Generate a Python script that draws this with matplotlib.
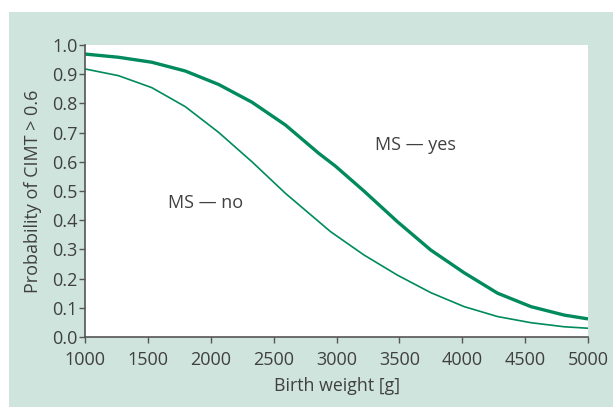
import matplotlib
matplotlib.use("Agg")
import matplotlib.pyplot as plt
from matplotlib.patches import Rectangle

weights_yes = [1000, 1266, 1531, 1797, 2062, 2328, 2594, 2859, 2992, 3218, 3484, 3749,
               4015, 4281, 4546, 4811, 5000]
ms_yes = [0.969, 0.958, 0.941, 0.911, 0.865, 0.804, 0.726, 0.629, 0.585, 0.500, 0.395,
          0.298, 0.220, 0.150, 0.104, 0.075, 0.062]
weights_no = [1000, 1266, 1531, 1797, 2062, 2328, 2594, 2952, 3218, 3484, 3749, 4015,
              4281, 4546, 4811, 5000]
ms_no = [0.918, 0.895, 0.854, 0.789, 0.701, 0.600, 0.492, 0.361, 0.281, 0.212, 0.152,
         0.104, 0.070, 0.049, 0.035, 0.030]
xticks = [1000, 1500, 2000, 2500, 3000, 3500, 4000, 4500, 5000]
yticks = [0.0, 0.1, 0.2, 0.3, 0.4, 0.5, 0.6, 0.7, 0.8, 0.9, 1.0]

plt.rcParams['font.family'] = ['Open Sans', 'DejaVu Sans']
W, H = 613, 407
fig = plt.figure(figsize=(W / 100, H / 100), dpi=100)
fig.patch.set_facecolor('white')
fig.patches.append(Rectangle((9 / W, 0), 1 - 9 / W, 1 - 12 / H, transform=fig.transFigure,
                             facecolor='#cfe4dc', edgecolor='none', zorder=-10))

ax = fig.add_axes([85 / W, 1 - 337 / H, (588 - 85) / W, (337 - 45) / H])
ax.set_facecolor('white')
green = '#008a5e'
ax.plot(weights_yes, ms_yes, color=green, lw=2.4, solid_capstyle='butt', solid_joinstyle='round')
ax.plot(weights_no, ms_no, color=green, lw=1.2, solid_capstyle='butt', solid_joinstyle='round')
ax.set_xlim(1000, 5000)
ax.set_ylim(0, 1.0)
ax.set_xticks(xticks)
ax.set_yticks(yticks)
ax.set_yticklabels([f"{v:.1f}" for v in yticks])
for s in ['top', 'right']:
    ax.spines[s].set_visible(False)
for s in ['left', 'bottom']:
    ax.spines[s].set_color('#555555')
    ax.spines[s].set_linewidth(1.2)
txt = '#404040'
ax.tick_params(axis='both', colors='#555555', labelcolor=txt, labelsize=13,
               length=4, width=1.0)
ax.tick_params(axis='y', pad=1.5)
ax.tick_params(axis='x', pad=6)
ax.set_xlabel('Birth weight [g]', fontsize=12.8, color=txt, labelpad=6)
ax.set_ylabel('Probability of CIMT > 0.6', fontsize=13, color=txt, labelpad=7)
ax.text(3630, 0.658, 'MS — yes', fontsize=13, color=txt, ha='center', va='center')
ax.text(1956, 0.459, 'MS — no', fontsize=13, color=txt, ha='center', va='center')
fig.savefig('out.png', dpi=100, facecolor=fig.get_facecolor())
